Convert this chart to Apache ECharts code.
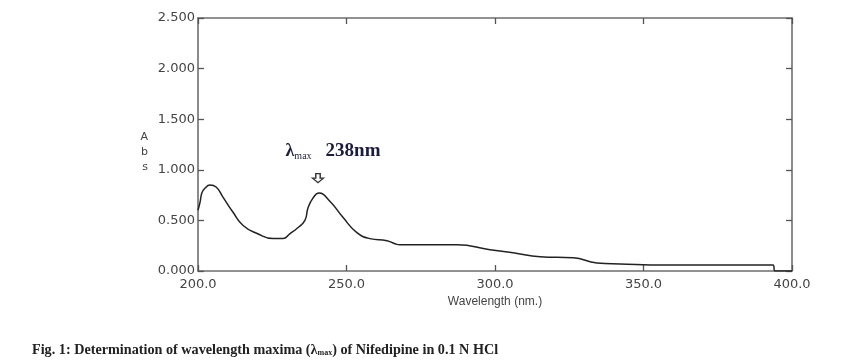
<!DOCTYPE html>
<html>
<head>
<meta charset="utf-8">
<script src="https://cdn.jsdelivr.net/npm/echarts@6/dist/echarts.min.js"></script>
<style>html,body{margin:0;padding:0;background:#fff}#c{width:855px;height:363px}</style>
</head>
<body>
<div id="c"></div>
<script>
var wavelengths = [200.0,200.7,201.3,202.4,204.0,206.1,208.4,211.8,215.2,219.9,225.3,228.6,231.0,233.3,236.0,237.0,238.7,240.7,244.4,248.8,253.5,257.9,263.6,266.3,268.0,287.2,298.3,306.1,315.2,326.3,334.3,342.1,357.9,388.2,393.6,394.3,400.0];
var absorbance = [0.60,0.68,0.77,0.82,0.85,0.83,0.73,0.58,0.45,0.37,0.32,0.32,0.37,0.42,0.50,0.62,0.72,0.77,0.69,0.53,0.38,0.32,0.30,0.27,0.26,0.26,0.21,0.18,0.14,0.13,0.08,0.07,0.06,0.06,0.06,0.00,0.00];
var peakPoint = [240.4, 0.77];
var xTicks = {min: 200, max: 400, interval: 50};
var yTicks = {min: 0, max: 2.5, interval: 0.5};

var chart = echarts.init(document.getElementById('c'));
var axisLine = {show: true, onZero: false, lineStyle: {color: '#6e6e6e', width: 1.6}};
var tickStyle = {show: true, inside: true, length: 6, lineStyle: {color: '#555', width: 1.3}};
var labelFont = {fontFamily: 'DejaVu Sans', fontSize: 13, color: '#444'};
chart.setOption({
  animation: false,
  title: {
    left: 27, top: 338,
    text: '{b|Fig. 1: Determination of wavelength maxima (λ}{s|max}{b|) of Nifedipine in 0.1 N HCl}',
    textStyle: {
      rich: {
        b: {fontFamily: 'Liberation Serif', fontWeight: 'bold', fontSize: 14.2, color: '#222'},
        s: {fontFamily: 'Liberation Serif', fontWeight: 'bold', fontSize: 8, color: '#222', verticalAlign: 'bottom', padding: [6,0,0,0]}
      }
    }
  },
  grid: {left: 198, right: 63, top: 18, bottom: 92},
  xAxis: [{
    type: 'value', min: xTicks.min, max: xTicks.max, interval: xTicks.interval,
    axisLine: axisLine, axisTick: tickStyle, splitLine: {show: false},
    axisLabel: Object.assign({margin: 7, formatter: function(v){return v.toFixed(1);}}, labelFont),
    name: 'Wavelength (nm.)', nameLocation: 'middle', nameGap: 22,
    nameTextStyle: {fontFamily: 'Liberation Sans', fontSize: 12, color: '#444'}
  }, {
    type: 'value', position: 'top', min: xTicks.min, max: xTicks.max, interval: xTicks.interval,
    axisLine: axisLine, axisTick: tickStyle, axisLabel: {show: false}, splitLine: {show: false}
  }],
  yAxis: [{
    type: 'value', min: yTicks.min, max: yTicks.max, interval: yTicks.interval,
    axisLine: axisLine, axisTick: tickStyle, splitLine: {show: false},
    axisLabel: Object.assign({margin: 3, formatter: function(v){return v.toFixed(3);}}, labelFont),
    name: '\nA\nb\ns', nameLocation: 'middle', nameRotate: 0, nameGap: 50,
    nameTextStyle: {fontFamily: 'DejaVu Sans', fontSize: 11, color: '#444', lineHeight: 15}
  }, {
    type: 'value', position: 'right', min: yTicks.min, max: yTicks.max, interval: yTicks.interval,
    axisLine: axisLine, axisTick: tickStyle, axisLabel: {show: false}, splitLine: {show: false}
  }],
  series: [{
    type: 'line', xAxisIndex: 0, yAxisIndex: 0,
    data: wavelengths.map(function(w, i){return [w, absorbance[i]];}),
    showSymbol: false, smooth: 0.5,
    lineStyle: {color: '#222', width: 1.5},
    markPoint: {
      silent: true,
      data: [{
        coord: peakPoint,
        symbol: 'path://M3,0 L7,0 L7,5 L10,5 L5,10 L0,5 L3,5 Z',
        symbolSize: [11, 9], symbolOffset: [0, -15],
        itemStyle: {color: '#fff', borderColor: '#333', borderWidth: 1.3},
        label: {
          show: true, position: 'top', distance: 12, offset: [15, 0],
          formatter: '{l|λ}{s|max}{n|238nm}',
          rich: {
            l: {fontFamily: 'Liberation Serif', fontWeight: 'bold', fontSize: 18, color: '#1c1c3c'},
            s: {fontFamily: 'Liberation Serif', fontSize: 10, color: '#1c1c3c', verticalAlign: 'bottom', padding: [7,0,0,0]},
            n: {fontFamily: 'Liberation Serif', fontWeight: 'bold', fontSize: 19, color: '#1c1c3c', padding: [0,0,0,14]}
          }
        }
      }]
    }
  }]
});
</script>
</body>
</html>
